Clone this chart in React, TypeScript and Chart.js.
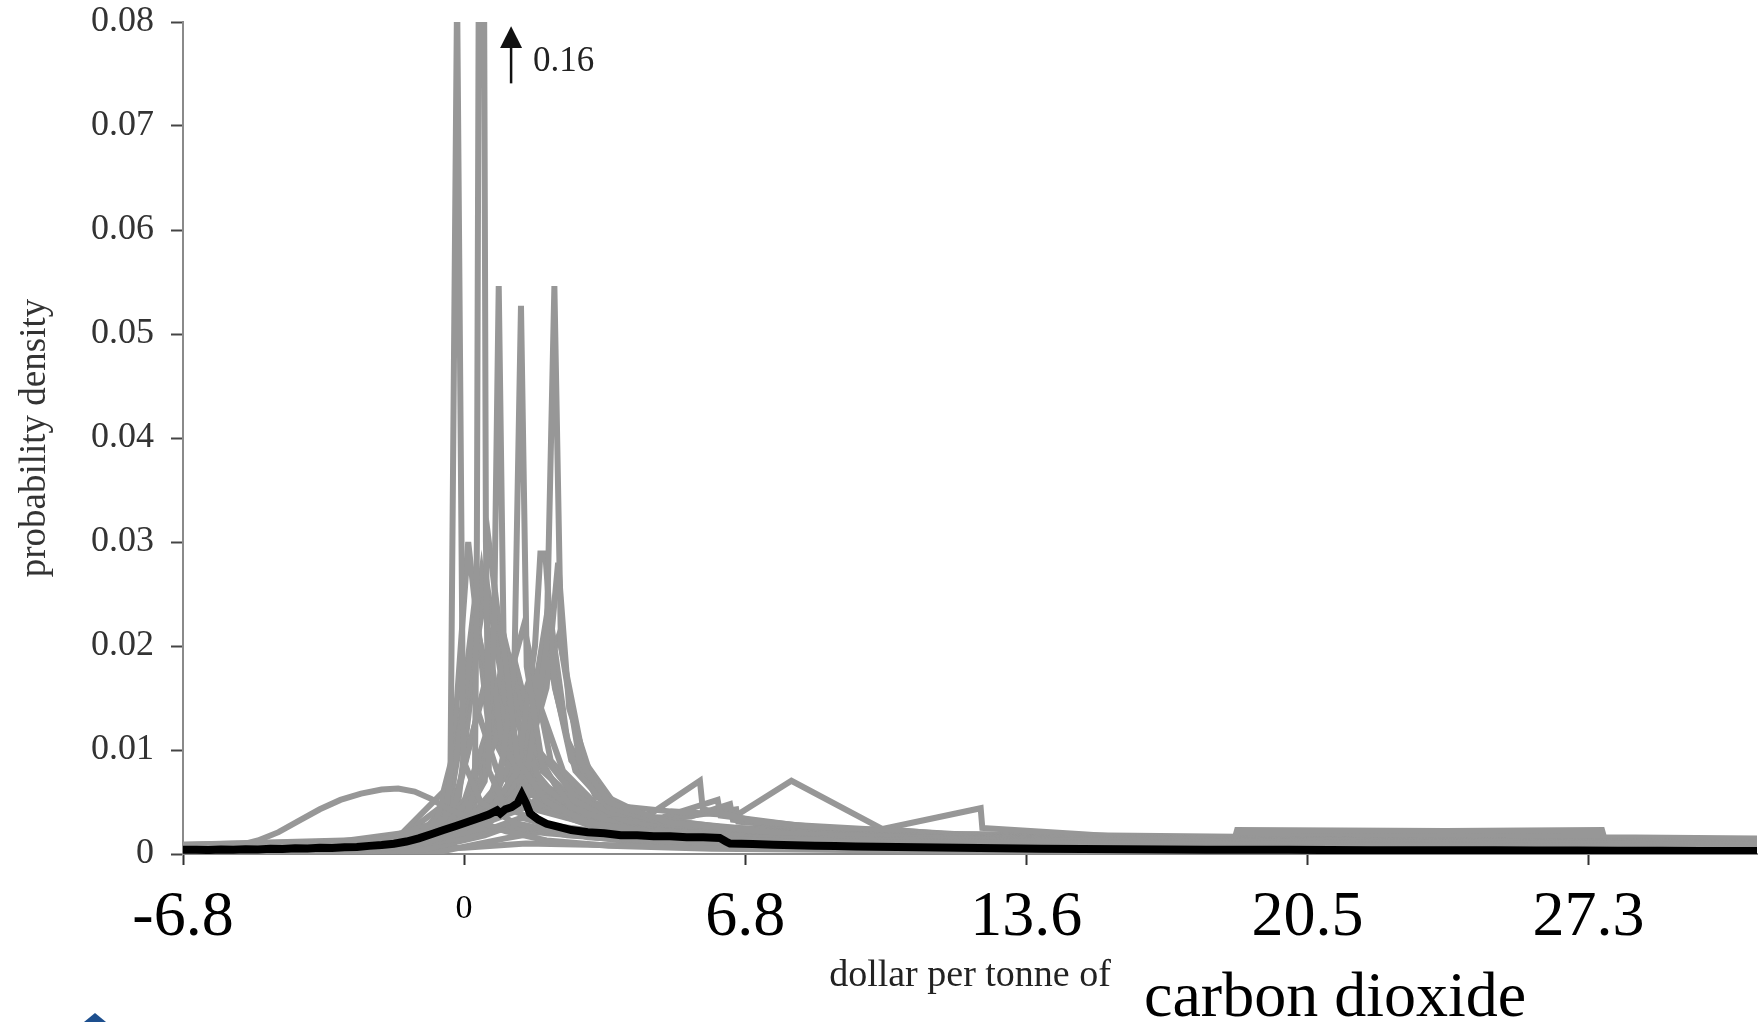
import React, { useEffect, useRef } from 'react';
import { Chart, registerables } from 'chart.js';

Chart.register(...registerables);

type P = [number, number];

// ---------- axes ----------
const X_MIN = -6.818;
const X_MAX = 31.36;
const xTickValues = [-6.818, 0, 6.818, 13.636, 20.455, 27.273];
const xTickLabels = ['-6.8', '0', '6.8', '13.6', '20.5', '27.3'];
const Y_MIN = 0;
const Y_MAX = 0.08;
const Y_STEP = 0.01;

// ---------- texts ----------
const yTitle = 'probability density';
const xTitle = 'dollar per tonne of';
const xTitleOverlay = 'carbon dioxide';
const peakNote = '0.16';
// annotation arrow anchor (data units)
const arrowX = 1.14;
const arrowTip = 0.0796;
const arrowHeadBase = 0.0775;
const arrowTail = 0.0741;
const noteX = 1.67;
const noteY = 0.0762;

// ---------- series (x in $/tCO2, y density) ----------
const meanCurve: P[] = [
  [-6.82, 0.0004], [-6.5, 0.00042], [-6.2, 0.00038], [-5.9, 0.00043], [-5.6, 0.00041],
  [-5.3, 0.00046], [-5.0, 0.00044], [-4.7, 0.0005], [-4.4, 0.00048], [-4.1, 0.00055],
  [-3.8, 0.00053], [-3.5, 0.0006], [-3.2, 0.00058], [-2.9, 0.00066], [-2.6, 0.00068],
  [-2.3, 0.00078], [-2.0, 0.00086], [-1.7, 0.00098], [-1.4, 0.0012], [-1.1, 0.0015],
  [-0.8, 0.0019], [-0.5, 0.0023], [-0.2, 0.0027], [0.1, 0.0031], [0.4, 0.0035],
  [0.6, 0.0038], [0.8, 0.0042], [0.88, 0.0039], [1.0, 0.0043], [1.15, 0.0045],
  [1.3, 0.0049], [1.4, 0.0057], [1.5, 0.0049], [1.6, 0.0039], [1.8, 0.0033],
  [2.0, 0.0029], [2.3, 0.0026], [2.6, 0.0023], [3.0, 0.0021], [3.4, 0.002],
  [3.8, 0.0018], [4.2, 0.0018], [4.6, 0.0017], [5.0, 0.0017], [5.4, 0.0016],
  [5.8, 0.0016], [6.2, 0.00155], [6.35, 0.0012], [6.45, 0.001], [7, 0.00095],
  [7.5, 0.0009], [8, 0.00085], [8.5, 0.0008], [9, 0.00078], [9.5, 0.00072],
  [10, 0.0007], [11, 0.00065], [12, 0.0006], [13, 0.00055], [14, 0.0005],
  [15, 0.00048], [16, 0.00046], [17, 0.00043], [18, 0.00042], [19, 0.0004],
  [20, 0.0004], [21, 0.00038], [22, 0.00037], [23, 0.00036], [24, 0.00035],
  [25, 0.00035], [26, 0.00034], [27, 0.00033], [28, 0.00032], [29, 0.00032],
  [30, 0.0003], [31.36, 0.0003],
];

const hump: P[] = [
  [-6.82, 0.0006], [-6, 0.0007], [-5.4, 0.0009], [-5, 0.0013], [-4.5, 0.0021], [-4, 0.0032],
  [-3.5, 0.0043], [-3, 0.0052], [-2.5, 0.0058], [-2, 0.0062], [-1.6, 0.0063], [-1.2, 0.006],
  [-0.8, 0.0053], [-0.5, 0.0046], [-0.2, 0.004], [0.3, 0.0032], [1, 0.0022], [2, 0.0013],
  [3.5, 0.0008], [6, 0.0005], [12, 0.0003], [31.36, 0.0002],
];
const spikeA: P[] = [
  [-6.82, 0.0008], [-4, 0.001], [-2, 0.0014], [-1, 0.0022], [-0.45, 0.0035], [-0.33, 0.008],
  [-0.17, 0.083], [-0.02, 0.009], [0.4, 0.005], [1.2, 0.003], [2.5, 0.0019], [5, 0.0012],
  [10, 0.0008], [31.36, 0.0004],
];
const spikeB: P[] = [
  [-6.82, 0.0007], [-3, 0.0009], [-1, 0.0017], [0, 0.0033], [0.26, 0.006], [0.31, 0.03],
  [0.42, 0.16], [0.53, 0.03], [0.6, 0.008], [1.0, 0.0045], [2, 0.0028], [4, 0.0018],
  [8, 0.0012], [31.36, 0.0006],
];
const spikeC: P[] = [
  [-6.82, 0.0008], [-3, 0.001], [-1, 0.0018], [0, 0.0035], [0.5, 0.007], [0.72, 0.02],
  [0.84, 0.0546], [0.96, 0.02], [1.3, 0.009], [2, 0.005], [3, 0.003], [5, 0.0019],
  [9, 0.0013], [31.36, 0.0007],
];
const spikeD: P[] = [
  [-6.82, 0.0006], [-2, 0.001], [0, 0.0024], [0.8, 0.005], [1.22, 0.018], [1.38, 0.0527],
  [1.52, 0.018], [1.9, 0.0085], [2.6, 0.0045], [4, 0.0025], [7, 0.0015], [31.36, 0.0009],
];
const spikeE: P[] = [
  [-6.82, 0.0005], [-1, 0.0011], [0.5, 0.0025], [1.5, 0.007], [2.0, 0.02], [2.19, 0.0546],
  [2.35, 0.02], [2.8, 0.009], [3.5, 0.005], [5, 0.003], [8, 0.0019], [14, 0.0013],
  [31.36, 0.0009],
];
const flatTop: P[] = [
  [-6.82, 0.0007], [-1, 0.0015], [0.5, 0.0035], [1.3, 0.008], [1.72, 0.02], [1.85, 0.0289],
  [1.97, 0.0289], [2.2, 0.016], [2.7, 0.008], [3.5, 0.0045], [5, 0.0028], [9, 0.0017],
  [16, 0.0012], [31.36, 0.0008],
];
const peakF: P[] = [
  [-6.82, 0.0006], [-2, 0.0009], [0, 0.002], [1.3, 0.006], [2.0, 0.016], [2.28, 0.028],
  [2.55, 0.014], [3.2, 0.006], [4.5, 0.0035], [7, 0.0022], [12, 0.0015], [31.36, 0.001],
];
const peakG: P[] = [
  [-6.82, 0.0009], [-2, 0.0014], [-0.7, 0.003], [-0.2, 0.009], [0.42, 0.027], [0.9, 0.011],
  [1.6, 0.006], [2.6, 0.0035], [4, 0.0024], [8, 0.0015], [31.36, 0.0008],
];
const peakH: P[] = [
  [-6.82, 0.0008], [-3, 0.0011], [-1.5, 0.0017], [-0.4, 0.005], [0.35, 0.021], [1.0, 0.01],
  [1.8, 0.005], [3, 0.003], [6, 0.0018], [12, 0.0012], [31.36, 0.0007],
];
const peakI: P[] = [
  [-6.82, 0.0007], [-3, 0.001], [-1, 0.0019], [-0.2, 0.005], [0.6, 0.018], [1.4, 0.007],
  [2.5, 0.0035], [5, 0.002], [10, 0.0013], [31.36, 0.0007],
];
const peakJ: P[] = [
  [-6.82, 0.0006], [-3, 0.0009], [-1.2, 0.0016], [-0.5, 0.0025], [0.3, 0.006], [1.1, 0.0147],
  [1.9, 0.0065], [3, 0.0035], [6, 0.0019], [12, 0.0013], [31.36, 0.0008],
];
const peakK: P[] = [
  [-6.82, 0.0007], [-3, 0.0009], [-1, 0.0016], [0, 0.0028], [0.8, 0.006], [1.44, 0.012],
  [2.3, 0.006], [3.5, 0.0034], [7, 0.0018], [14, 0.0012], [31.36, 0.0009],
];
const peakL: P[] = [
  [-6.82, 0.0008], [-3, 0.001], [-1, 0.002], [0, 0.005], [0.72, 0.0138], [1.6, 0.0065],
  [2.8, 0.0033], [5, 0.002], [10, 0.0013], [31.36, 0.0008],
];
const peakM: P[] = [
  [-6.82, 0.0006], [-2, 0.001], [0.2, 0.003], [1.0, 0.0055], [1.8, 0.01], [2.7, 0.0055],
  [4, 0.0032], [8, 0.0018], [15, 0.0013], [31.36, 0.001],
];
const peakN: P[] = [
  [-6.82, 0.0005], [-2, 0.0009], [0.5, 0.003], [1.4, 0.008], [2.05, 0.024], [2.5, 0.011],
  [3.2, 0.0055], [4.5, 0.0033], [8, 0.002], [15, 0.0014], [31.36, 0.0011],
];
const peakP: P[] = [
  [-6.82, 0.0007], [-3, 0.001], [-1.3, 0.0017], [-0.5, 0.0028], [0.4, 0.007], [1.0, 0.02],
  [1.5, 0.009], [2.5, 0.0042], [4, 0.0027], [8, 0.0016], [31.36, 0.0008],
];
const peakQ: P[] = [
  [-6.82, 0.0009], [-3, 0.0012], [-1.5, 0.002], [-0.5, 0.006], [0.15, 0.016], [0.8, 0.008],
  [1.8, 0.0042], [3.5, 0.0024], [7, 0.0014], [31.36, 0.0007],
];
const peakR: P[] = [
  [-6.82, 0.0008], [-3, 0.001], [-1, 0.0021], [-0.35, 0.004], [0.25, 0.024], [0.7, 0.012],
  [1.5, 0.006], [3, 0.003], [6, 0.0018], [12, 0.0012], [31.36, 0.0008],
];
const peakS: P[] = [
  [-6.82, 0.0007], [-3, 0.0009], [-1.2, 0.0018], [-0.6, 0.003], [-0.3, 0.006], [0.55, 0.026],
  [1.1, 0.012], [2, 0.0055], [3.5, 0.003], [6, 0.0019], [12, 0.0012], [31.36, 0.0009],
];
const peakT: P[] = [
  [-6.82, 0.0006], [-3, 0.0009], [-1, 0.0019], [-0.3, 0.004], [0.9, 0.022], [1.7, 0.009],
  [2.8, 0.0045], [5, 0.0025], [10, 0.0015], [31.36, 0.001],
];
const peakU: P[] = [
  [-6.82, 0.0006], [-2.5, 0.0009], [-1, 0.0018], [0, 0.004], [1.2, 0.019], [1.9, 0.008],
  [3, 0.004], [6, 0.0021], [12, 0.0013], [31.36, 0.0009],
];
const peakV: P[] = [
  [-6.82, 0.0005], [-2, 0.0009], [0, 0.0025], [0.6, 0.005], [1.6, 0.017], [2.4, 0.008],
  [3.4, 0.004], [6, 0.0022], [12, 0.0014], [31.36, 0.001],
];
const peakW: P[] = [
  [-6.82, 0.0005], [-1, 0.0012], [0.3, 0.003], [1.0, 0.006], [2.3, 0.021], [2.9, 0.009],
  [3.8, 0.004], [6, 0.0024], [11, 0.0016], [31.36, 0.0011],
];
const peakX: P[] = [
  [-6.82, 0.0008], [-3, 0.0011], [-1, 0.0022], [-0.35, 0.005], [0.1, 0.03], [0.6, 0.012],
  [1.5, 0.005], [3, 0.0028], [6, 0.0016], [12, 0.0011], [31.36, 0.0007],
];
const peakY: P[] = [
  [-6.82, 0.0007], [-2, 0.0011], [-0.5, 0.0022], [0.2, 0.004], [1.45, 0.022], [2.1, 0.009],
  [3.2, 0.004], [6, 0.0021], [12, 0.0013], [31.36, 0.0009],
];
const peakZ: P[] = [
  [-6.82, 0.0006], [-2.5, 0.0009], [-1, 0.0017], [-0.2, 0.003], [0.6, 0.03], [1.2, 0.011],
  [2.2, 0.005], [4, 0.0026], [8, 0.0015], [31.36, 0.0008],
];
const peakAA: P[] = [
  [-6.82, 0.0005], [-1, 0.0011], [0.3, 0.0025], [1.2, 0.005], [2.1, 0.018], [2.6, 0.009],
  [3.6, 0.0042], [6, 0.0025], [11, 0.0016], [31.36, 0.0011],
];
const bumpA: P[] = [
  [-6.82, 0.0006], [-2, 0.001], [-1, 0.0016], [0.5, 0.0045], [1.5, 0.0068], [2.5, 0.0052],
  [3.5, 0.0042], [4.39, 0.0035], [5.72, 0.00704], [5.79, 0.0043], [7, 0.0032], [9, 0.0024],
  [12, 0.0018], [16, 0.0014], [31.36, 0.0009],
];
const bumpB: P[] = [
  [-6.82, 0.0006], [-2, 0.001], [-1, 0.0015], [1, 0.0048], [2, 0.0062], [3, 0.0049],
  [5, 0.0041], [6.6, 0.0037], [7.94, 0.00704], [10.15, 0.0024], [13, 0.0015], [18, 0.0011],
  [31.36, 0.0007],
];
const bumpC: P[] = [
  [-6.82, 0.0005], [-2, 0.0009], [0, 0.0022], [1.5, 0.0045], [3, 0.0035], [6, 0.0026],
  [8.5, 0.0022], [10.15, 0.0024], [12.53, 0.0044], [12.57, 0.0025], [15, 0.0019],
  [16.5, 0.0015], [18.7, 0.0016], [18.75, 0.0023], [23.8, 0.0022], [27.6, 0.0023],
  [27.65, 0.0016], [31.36, 0.0015],
];
const bumpD: P[] = [
  [-6.82, 0.0007], [-2, 0.0011], [0, 0.0028], [1.2, 0.0085], [2.2, 0.0055], [3.5, 0.0036],
  [4.8, 0.0035], [6.15, 0.0052], [6.22, 0.0037], [8, 0.0028], [12, 0.0019], [20, 0.0014],
  [31.36, 0.001],
];
const bumpE: P[] = [
  [-6.82, 0.0006], [-2, 0.001], [0.3, 0.003], [1.6, 0.0075], [2.6, 0.005], [4, 0.0033],
  [5.5, 0.0036], [6.45, 0.0048], [6.52, 0.0033], [9, 0.0022], [14, 0.0016], [18.7, 0.0014],
  [18.75, 0.002], [27.6, 0.002], [27.65, 0.0013], [31.36, 0.0012],
];
const bumpF: P[] = [
  [-6.82, 0.0005], [-2, 0.0009], [0, 0.0022], [1, 0.004], [2.2, 0.0058], [3.5, 0.0038],
  [5, 0.0034], [6.6, 0.0043], [6.65, 0.0031], [10, 0.002], [20, 0.0016], [31.36, 0.0014],
];
const lowA: P[] = [
  [-6.82, 0.0002], [-2, 0.0005], [0, 0.0015], [1.4, 0.0035], [3, 0.0016], [6, 0.0009],
  [12, 0.0005], [31.36, 0.0002],
];
const lowB: P[] = [
  [-6.82, 0.0001], [-1, 0.0004], [0.5, 0.0018], [1.2, 0.0028], [2.5, 0.0018], [5, 0.0011],
  [10, 0.0006], [31.36, 0.0003],
];
const lowC: P[] = [
  [-6.82, 0.0001], [-0.5, 0.0003], [1, 0.0015], [2, 0.0022], [4, 0.0012], [8, 0.0007],
  [20, 0.0004], [31.36, 0.0002],
];
const lowD: P[] = [
  [-6.82, 0.0001], [0, 0.0006], [1.5, 0.001], [3, 0.0009], [7, 0.0006], [15, 0.0003],
  [31.36, 0.0001],
];
const lowE: P[] = [
  [-6.82, 0.0003], [-3, 0.0005], [-0.5, 0.001], [1, 0.0025], [2, 0.002], [4, 0.0014],
  [6.3, 0.0012], [10, 0.0009], [20, 0.0006], [31.36, 0.0005],
];

const grayCurves: P[][] = [
  hump, spikeA, spikeB, spikeC, spikeD, spikeE, flatTop, peakF, peakG, peakH, peakI, peakJ,
  peakK, peakL, peakM, peakN, peakP, peakQ, peakR, peakS, peakT, peakU, peakV, peakW, peakX,
  peakY, peakZ, peakAA, bumpA, bumpB, bumpC, bumpD, bumpE, bumpF, lowA, lowB, lowC, lowD, lowE,
];

const GRAY = '#979797';
const SERIF = '"Liberation Serif", "Times New Roman", "DejaVu Serif", serif';

const overlayPlugin = {
  id: 'overlayText',
  afterDraw(chart: any) {
    const { ctx, scales } = chart;
    const xs = scales.x;
    const ys = scales.y;
    ctx.save();
    // arrow
    const ax = xs.getPixelForValue(arrowX);
    const yt = ys.getPixelForValue(arrowTip);
    const yb = ys.getPixelForValue(arrowHeadBase);
    const yl = ys.getPixelForValue(arrowTail);
    ctx.fillStyle = '#111';
    ctx.beginPath();
    ctx.moveTo(ax, yt);
    ctx.lineTo(ax - 11, yb);
    ctx.lineTo(ax + 11, yb);
    ctx.closePath();
    ctx.fill();
    ctx.strokeStyle = '#111';
    ctx.lineWidth = 2.5;
    ctx.beginPath();
    ctx.moveTo(ax, yb);
    ctx.lineTo(ax, yl);
    ctx.stroke();
    ctx.font = `35px ${SERIF}`;
    ctx.textAlign = 'left';
    ctx.textBaseline = 'middle';
    ctx.fillStyle = '#222';
    ctx.fillText(peakNote, xs.getPixelForValue(noteX), ys.getPixelForValue(noteY));
    // big overlay part of x-axis title
    ctx.font = `64px ${SERIF}`;
    ctx.textBaseline = 'alphabetic';
    ctx.fillStyle = '#000';
    ctx.fillText(xTitleOverlay, 1144, 1016);
    // small blue mark at bottom-left edge
    ctx.fillStyle = '#1d4f8e';
    ctx.beginPath();
    ctx.moveTo(84, 1022);
    ctx.lineTo(95, 1013);
    ctx.lineTo(106, 1022);
    ctx.closePath();
    ctx.fill();
    ctx.restore();
  },
};

export default function App() {
  const ref = useRef<HTMLCanvasElement | null>(null);

  useEffect(() => {
    if (!ref.current) return;
    const toXY = (pts: P[]) => pts.map(([x, y]) => ({ x, y }));
    const datasets: any[] = [
      {
        data: toXY(meanCurve),
        borderColor: '#000',
        borderWidth: 8,
        pointRadius: 0,
        tension: 0,
        clip: 0,
        order: 0,
      },
      ...grayCurves.map((c) => ({
        data: toXY(c),
        borderColor: GRAY,
        borderWidth: 6,
        pointRadius: 0,
        tension: 0,
        clip: 0,
        order: 1,
      })),
    ];

    const chart = new Chart(ref.current, {
      type: 'line',
      data: { datasets },
      options: {
        animation: false,
        responsive: false,
        parsing: false as any,
        normalized: true,
        layout: { padding: { top: 22, right: 5, left: 0, bottom: 0 } },
        plugins: { legend: { display: false }, tooltip: { enabled: false } },
        scales: {
          x: {
            type: 'linear',
            min: X_MIN,
            max: X_MAX,
            afterBuildTicks: (scale: any) => {
              scale.ticks = xTickValues.map((v) => ({ value: v }));
            },
            afterFit: (scale: any) => {
              scale.height = 168;
              scale.paddingLeft = 0;
              scale.paddingRight = 0;
            },
            ticks: {
              autoSkip: false,
              maxRotation: 0,
              minRotation: 0,
              padding: 15,
              color: '#000',
              font: (ctx: any) =>
                ctx.tick && ctx.tick.value === 0
                  ? { family: SERIF, size: 34, lineHeight: 1.7 }
                  : { family: SERIF, size: 64, lineHeight: 1.2 },
              callback: (_v: any, i: number) => xTickLabels[i],
            },
            grid: {
              drawOnChartArea: false,
              drawTicks: true,
              tickLength: 11,
              tickColor: '#333',
              tickWidth: 2,
            },
            border: { display: true, color: '#8a8a8a', width: 2 },
            title: {
              display: true,
              text: xTitle,
              color: '#222',
              font: { family: SERIF, size: 38, lineHeight: 1.2 },
              padding: { top: 0, bottom: 23 },
            },
          },
          y: {
            type: 'linear',
            min: Y_MIN,
            max: Y_MAX,
            afterFit: (scale: any) => {
              scale.width = 183;
              scale.paddingTop = 0;
              scale.paddingBottom = 0;
            },
            ticks: {
              stepSize: Y_STEP,
              padding: 17,
              color: '#333',
              font: { family: SERIF, size: 36 },
              callback: (v: any) => (Math.abs(v) < 1e-9 ? '0' : Number(v).toFixed(2)),
            },
            grid: {
              drawOnChartArea: false,
              drawTicks: true,
              tickLength: 12,
              tickColor: '#444',
              tickWidth: 2,
            },
            border: { display: true, color: '#8a8a8a', width: 2 },
            title: {
              display: true,
              text: yTitle,
              color: '#333',
              font: { family: SERIF, size: 37, lineHeight: 1.2 },
              padding: { top: 13, bottom: 0 },
            },
          },
        },
      },
      plugins: [overlayPlugin],
    });
    return () => chart.destroy();
  }, []);

  return (
    <div
      style={{
        position: 'fixed',
        left: 0,
        top: 0,
        width: 1762,
        height: 1022,
        background: '#fff',
      }}
    >
      <canvas ref={ref} width={1762} height={1022} style={{ display: 'block' }} />
    </div>
  );
}
